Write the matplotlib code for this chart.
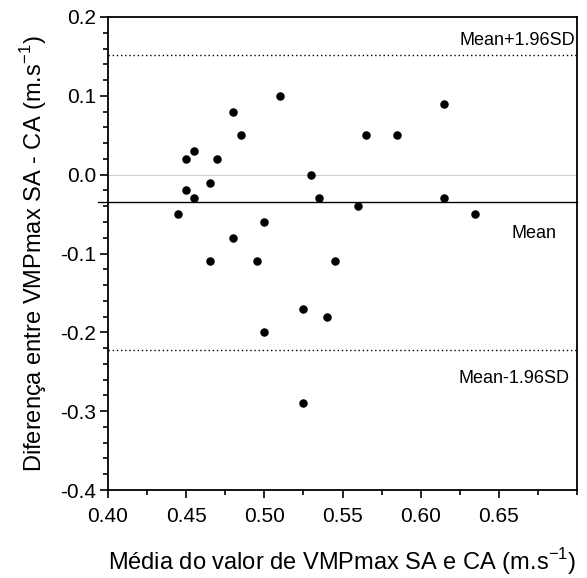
import matplotlib

matplotlib.use("Agg")
import matplotlib.pyplot as plt
from matplotlib.ticker import MultipleLocator, FormatStrFormatter

plt.rcParams["font.family"] = ["Liberation Sans", "DejaVu Sans"]

# Bland-Altman data: mean of the two conditions vs. difference (SA - CA)
media = [0.445, 0.450, 0.450, 0.455, 0.455, 0.465, 0.465, 0.470, 0.480, 0.480,
         0.485, 0.495, 0.500, 0.510, 0.530, 0.535, 0.545, 0.560, 0.565, 0.585,
         0.615, 0.615, 0.635, 0.500, 0.525, 0.540, 0.525]
diferenca = [-0.05, 0.02, -0.02, 0.03, -0.03, -0.01, -0.11, 0.02, 0.08, -0.08,
             0.05, -0.11, -0.06, 0.10, 0.00, -0.03, -0.11, -0.04, 0.05, 0.05,
             0.09, -0.03, -0.05, -0.20, -0.17, -0.18, -0.29]

mean_diff = -0.035
upper_loa = 0.152
lower_loa = -0.223

fig = plt.figure(figsize=(5.87, 5.78), dpi=100)
ax = fig.add_axes([108 / 587, 1 - 490 / 578, 469 / 587, 473 / 578])

ax.axhline(0.0, color="#d0d0d0", linewidth=0.8, zorder=1)
ax.plot([0.3936, 0.70], [mean_diff, mean_diff], color="black", linewidth=1.0,
        clip_on=False, zorder=2)
ax.axhline(upper_loa, color="black", linestyle=(0, (1, 2)), linewidth=1.0, zorder=2)
ax.axhline(lower_loa, color="black", linestyle=(0, (1, 2)), linewidth=1.0, zorder=2)

ax.scatter(media, diferenca, s=26, color="black", zorder=3)

ax.text(0.6987, 0.1708, "Mean+1.96SD", ha="right", va="center", fontsize=13)
ax.text(0.6722, -0.074, "Mean", ha="center", va="center", fontsize=13)
ax.text(0.6955, -0.259, "Mean-1.96SD", ha="right", va="center", fontsize=13)

ax.set_xlim(0.40, 0.70)
ax.set_ylim(-0.4, 0.2)
ax.xaxis.set_major_locator(MultipleLocator(0.05))
ax.xaxis.set_minor_locator(MultipleLocator(0.025))
ax.yaxis.set_major_locator(MultipleLocator(0.1))
ax.yaxis.set_minor_locator(MultipleLocator(0.02))
ax.xaxis.set_major_formatter(FormatStrFormatter("%.2f"))
ax.yaxis.set_major_formatter(FormatStrFormatter("%.1f"))
ax.set_xticks([0.40, 0.45, 0.50, 0.55, 0.60, 0.65])

ax.tick_params(axis="both", which="major", direction="out", length=5.5, width=1.2,
               labelsize=15, colors="black")
ax.tick_params(axis="x", which="major", pad=7)
ax.tick_params(axis="y", which="major", pad=3)
ax.tick_params(axis="both", which="minor", direction="out", length=3.5, width=1.2)
for spine in ax.spines.values():
    spine.set_linewidth(1.3)

ax.set_xlabel("Média do valor de VMPmax SA e CA (m.s$^{\\mathregular{-1}}$)",
              fontsize=17, labelpad=14)
ax.set_ylabel("Diferença entre VMPmax SA - CA (m.s$^{\\mathregular{-1}}$)",
              fontsize=17, labelpad=8)

fig.savefig("out.png", dpi=100, facecolor="white")
